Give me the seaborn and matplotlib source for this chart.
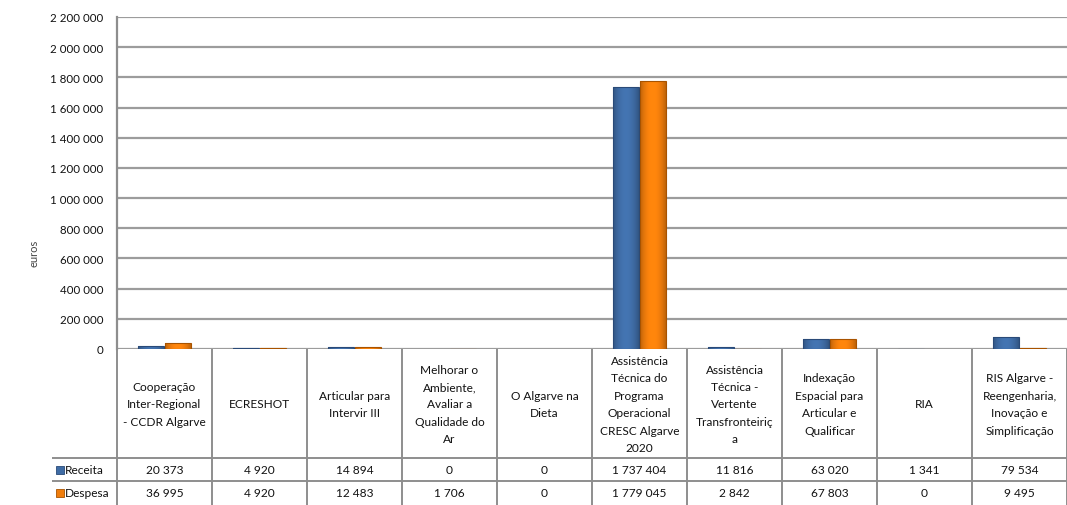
import matplotlib
matplotlib.use("Agg")
import matplotlib.pyplot as plt
import seaborn as sns
import pandas as pd
import numpy as np
from matplotlib.colors import to_rgb
from matplotlib.ticker import FuncFormatter

# Projects (header labels of the data table, line breaks as shown in the table)
projetos = [
    "Cooperação\nInter-Regional\n- CCDR Algarve",
    "ECRESHOT",
    "Articular para\nIntervir III",
    "Melhorar o\nAmbiente,\nAvaliar a\nQualidade do\nAr",
    "O Algarve na\nDieta",
    "Assistência\nTécnica do\nPrograma\nOperacional\nCRESC Algarve\n2020",
    "Assistência\nTécnica -\nVertente\nTransfronteiriç\na",
    "Indexação\nEspacial para\nArticular e\nQualificar",
    "RIA",
    "RIS Algarve -\nReengenharia,\nInovação e\nSimplificação",
]
series = ["Receita", "Despesa"]
receita = [20373, 4920, 14894, 0, 0, 1737404, 11816, 63020, 1341, 79534]
despesa = [36995, 4920, 12483, 1706, 0, 1779045, 2842, 67803, 0, 9495]
y_ticks = list(range(0, 2200001, 200000))

cores = {"Receita": "#3F6CA5", "Despesa": "#F07D0C"}
bordas = {"Receita": "#2A4A78", "Despesa": "#A85300"}

df = pd.DataFrame({
    "projeto": projetos * 2,
    "serie": ["Receita"] * len(projetos) + ["Despesa"] * len(projetos),
    "valor": receita + despesa,
})


def fmt_milhares(v, pos=None):
    return f"{int(round(v)):,}".replace(",", " ")


def sombreado(cor, n=40):
    """Horizontal shading: slightly darker edges, lighter middle."""
    base = np.array(to_rgb(cor))
    t = np.linspace(-1, 1, n)
    fator = 0.80 + 0.28 * (1 - t ** 2)
    rgb = np.clip(base[None, :] * fator[:, None], 0, 1)
    return rgb[None, :, :]


W, H = 1067, 506
X0, CAT = 117, 95          # left edge of the plot and width of one category (px)
sns.set_style("white")
plt.rcParams["font.family"] = ["Lato", "DejaVu Sans"]
fig = plt.figure(figsize=(W / 100, H / 100), dpi=100)

# Chart area
ax = fig.add_axes([X0 / W, (H - 350) / H, 950 / W, (350 - 18) / H])
sns.barplot(data=df, x="projeto", y="valor", hue="serie", order=projetos,
            hue_order=series, palette=cores, width=0.58, gap=0.06,
            legend=False, ax=ax, saturation=1.0)
for patch, serie in zip(list(ax.patches), [s for s in series for _ in projetos]):
    if patch.get_height() > 0:
        patch.set_edgecolor(bordas[serie])
        patch.set_linewidth(0.8)
        x0, y0 = patch.get_x(), patch.get_y()
        w, h = patch.get_width(), patch.get_height()
        img = ax.imshow(sombreado(cores[serie]), extent=[x0, x0 + w, y0, y0 + h],
                        aspect="auto", origin="lower", zorder=patch.get_zorder(),
                        interpolation="bilinear")
        img.set_clip_path(patch)
        patch.set_facecolor("none")
        patch.set_zorder(patch.get_zorder() + 0.1)
    else:
        patch.set_linewidth(0)

ax.set_xlim(-0.5, len(projetos) - 0.5)
ax.set_ylim(0, 2200000)
ax.set_aspect("auto")
ax.set_yticks(y_ticks)
ax.yaxis.set_major_formatter(FuncFormatter(fmt_milhares))
ax.set_xticks([])
ax.set_xlabel("")
ax.tick_params(axis="y", length=0, pad=10, labelsize=8.3, labelcolor="#111111")
ax.yaxis.grid(True, color="#9C9C9C", linewidth=1.6)
ax.set_axisbelow(True)
for side in ["top", "right", "bottom"]:
    ax.spines[side].set_visible(False)
ax.spines["left"].set_color("#8E8E8E")
ax.spines["left"].set_linewidth(1.6)
ax.set_ylabel("euros", fontsize=8, color="#444444")
ax.yaxis.set_label_coords(-0.082, 0.29)


def px(xp):
    """Horizontal pixel position -> category units of the chart."""
    return (xp - X0) / CAT - 0.5


# Data table under the chart
tax = fig.add_axes([40 / W, 0, (W - 40) / W, 156 / H])
tax.set_xlim(px(40), len(projetos) - 0.5)
tax.set_ylim(156, 0)
tax.axis("off")

linha = dict(color="#8E8E8E", linewidth=1.4, solid_capstyle="butt")
for k in range(len(projetos) + 1):
    tax.plot([k - 0.5, k - 0.5], [0, 156], **linha)
for yy in (109, 132):
    tax.plot([px(52), len(projetos) - 0.5], [yy, yy], **linha)

for i, nome in enumerate(projetos):
    tax.text(i, 55, nome, ha="center", va="center", fontsize=8.6,
             linespacing=1.72, color="#111111")
    tax.text(i, 121, fmt_milhares(receita[i]), ha="center", va="center",
             fontsize=8.6, color="#111111")
    tax.text(i, 144, fmt_milhares(despesa[i]), ha="center", va="center",
             fontsize=8.6, color="#111111")

for yy, serie in zip((121, 144), series):
    tax.plot([px(60)], [yy], marker="s", markersize=5.5,
             color=cores[serie], markeredgecolor=bordas[serie],
             markeredgewidth=0.6)
    tax.text(px(65), yy, serie, ha="left", va="center",
             fontsize=8.6, color="#111111")

fig.savefig("out.png", dpi=100)
